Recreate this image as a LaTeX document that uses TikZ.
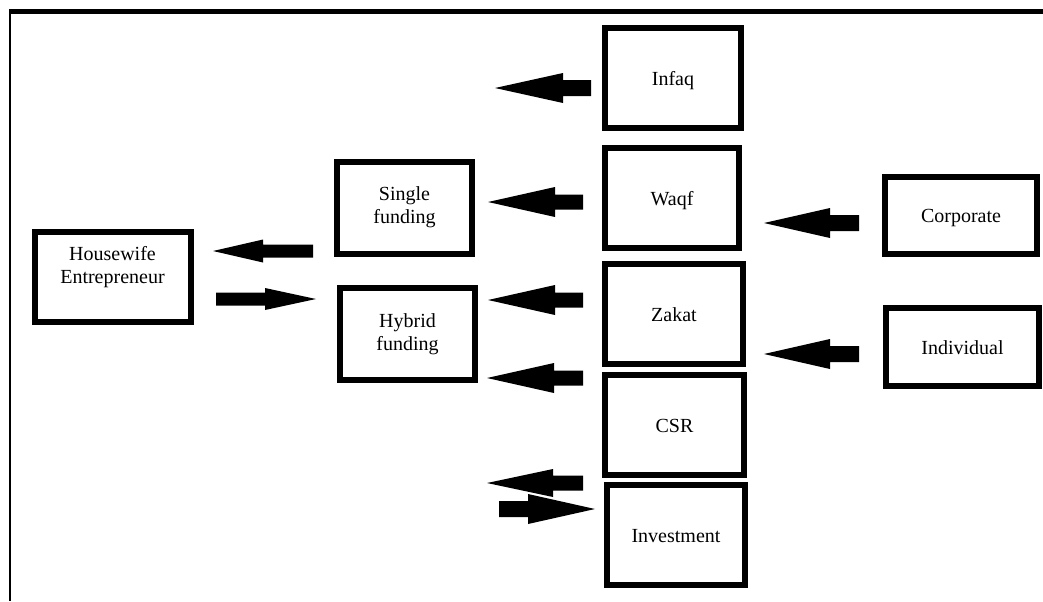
\documentclass[tikz,border=0pt]{standalone}
\usepackage{fontspec}
\setmainfont{Liberation Serif}
\begin{document}
\begin{tikzpicture}[x=0.75pt,y=-0.75pt,
  box/.style={draw=black,line width=4.5pt,fill=white,align=center,inner sep=0pt,
    font=\fontsize{15}{17}\selectfont},
  onebox/.style={box,text height=10.5pt,text depth=0pt},
  lab/.style={align=center,font=\fontsize{15}{17}\selectfont},
  pics/barrow/.style n args={4}{code={%
    \fill[black] (0,0) -- (#2,#3) -- (#2,#4) -- (#1,#4) -- (#1,-#4) -- (#2,-#4) -- (#2,-#3) -- cycle;}}
]
\useasboundingbox (0,0) rectangle (1043,601);
% frame lines
\fill[black] (9,9) rectangle (1043,14);
\fill[black] (9,9) rectangle (11,601);

% boxes
\node[box,minimum width=117pt,minimum height=68pt,
  label={[lab,yshift=7.5pt]center:Housewife\\Entrepreneur}] (hw) at (112.5,277) {};
\node[box,minimum width=101pt,minimum height=69pt] (single) at (404.5,207.5) {Single\\funding};
\node[box,minimum width=101pt,minimum height=69pt] (hybrid) at (407.5,334) {Hybrid\\funding};
\node[onebox,minimum width=102pt,minimum height=75pt] (infaq) at (673,78) {Infaq};
\node[onebox,minimum width=101pt,minimum height=75pt] (waqf) at (672,198) {Waqf};
\node[onebox,minimum width=104pt,minimum height=75pt] (zakat) at (674,314) {Zakat};
\node[onebox,minimum width=104pt,minimum height=75pt] (csr) at (674.5,425) {CSR};
\node[onebox,minimum width=104pt,minimum height=75pt] (invest) at (676,535) {Investment};
\node[onebox,minimum width=114pt,minimum height=58pt] (corp) at (961,215.5) {Corporate};
\node[onebox,minimum width=115pt,minimum height=59pt] (indiv) at (962.5,347) {Individual};

% block arrows
\pic (a1) at (495,88) {barrow={96}{68}{15}{8}};
\pic (a2) at (488,202) {barrow={95}{67}{15}{7.5}};
\pic (a3) at (488,300) {barrow={95}{67}{15}{7.5}};
\pic (a4) at (487,378) {barrow={96}{67}{15}{7.5}};
\pic (a5) at (764,223) {barrow={95}{66}{15}{8}};
\pic (a6) at (764,354) {barrow={95}{66}{15}{8}};
\pic (a7) at (487,483) {barrow={96}{66}{14}{7.5}};
\pic[xscale=-1] (a8) at (595,509) {barrow={96}{67}{15}{8}};
\pic (a9) at (213,251) {barrow={100}{50}{11.5}{6.5}};
\pic[xscale=-1] (a10) at (316,299) {barrow={100}{51}{11}{6.5}};
\end{tikzpicture}
\end{document}
